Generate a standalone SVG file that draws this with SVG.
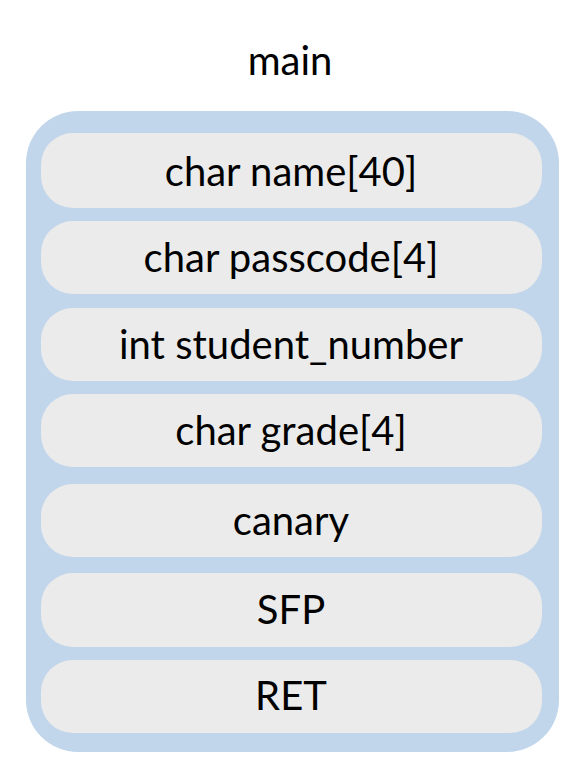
<svg xmlns="http://www.w3.org/2000/svg" width="578" height="778" viewBox="0 0 578 778">
<style>
.row{fill:#EBEBEB}
.t{font-family:Lato,"Liberation Sans",sans-serif;font-size:40px;fill:#000;text-anchor:middle}
</style>
<rect width="578" height="778" fill="#fff"/>
<text class="t" x="290" y="75">main</text>
<g id="frame"><rect x="26" y="111" width="533" height="641" rx="52" fill="#C2D6EB"/></g>
<g id="n1"><rect class="row" x="41" y="133" width="501" height="75" rx="32"/><text class="t" x="291" y="186">char name[40]</text></g>
<g id="n2"><rect class="row" x="41" y="221" width="501" height="73" rx="32"/><text class="t" x="291" y="272">char passcode[4]</text></g>
<g id="n3"><rect class="row" x="41" y="308" width="501" height="73" rx="32"/><text class="t" x="291" y="359">int student_number</text></g>
<g id="n4"><rect class="row" x="41" y="394" width="501" height="73" rx="32"/><text class="t" x="291" y="445">char grade[4]</text></g>
<g id="n5"><rect class="row" x="41" y="484" width="501" height="73" rx="32"/><text class="t" x="291" y="535">canary</text></g>
<g id="n6"><rect class="row" x="41" y="573" width="501" height="74" rx="32"/><text class="t" x="291" y="624">SFP</text></g>
<g id="n7"><rect class="row" x="41" y="660" width="501" height="73" rx="32"/><text class="t" x="291" y="710">RET</text></g>
<g id="connectors"/>
</svg>
